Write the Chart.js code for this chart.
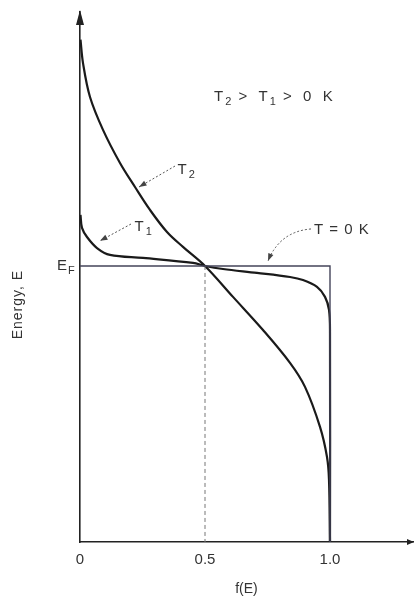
<!DOCTYPE html>
<html>
<head>
<meta charset="utf-8">
<script src="https://cdn.jsdelivr.net/npm/chart.js@4.4.1/dist/chart.umd.min.js"></script>
<style>
  html, body { margin: 0; padding: 0; background: #fff; }
  #wrap { width: 414px; height: 602px; }
</style>
</head>
<body>
<div id="wrap"><canvas id="fermiChart"></canvas></div>
<script>
// f(E) / E points (E in units of E_F)
const t2F = [0.002, 0.012, 0.04, 0.092, 0.16, 0.22, 0.28, 0.348, 0.412, 0.5, 0.612, 0.732, 0.84, 0.90, 0.96, 0.988, 0.996, 1.0];
const t2E = [1.82, 1.735, 1.612, 1.493, 1.373, 1.286, 1.203, 1.123, 1.069, 1.0, 0.888, 0.768, 0.649, 0.562, 0.417, 0.308, 0.225, 0.0];

const t1F = [0.002, 0.008, 0.028, 0.068, 0.12, 0.252, 0.452, 0.5, 0.572, 0.708, 0.84, 0.892, 0.948, 0.98, 0.996, 1.0, 1.0];
const t1E = [1.185, 1.138, 1.105, 1.065, 1.04, 1.029, 1.011, 1.0, 0.989, 0.975, 0.960, 0.949, 0.924, 0.888, 0.841, 0.757, 0.0];

// T = 0 K step
const t0F = [0, 1, 1];
const t0E = [1, 1, 0];

// dashed guide at f = 0.5
const halfF = [0.5, 0.5];
const halfE = [1, 0];

const tickValues = [0, 0.5, 1.0];
const tickLabels = ['0', '0.5', '1.0'];

const toPoints = (xs, ys) => xs.map((x, i) => ({ x: x, y: ys[i] }));

const FONT = '"Liberation Sans", Arial, sans-serif';
const INK = '#333';

// arrows and labels drawn on top of the chart
const annotations = {
    id: 'annotations',
    afterDraw(chart) {
        const ctx = chart.ctx;
        const xs = chart.scales.x;
        const ys = chart.scales.y;
        const px = (f, e) => [xs.getPixelForValue(f), ys.getPixelForValue(e)];
        const area = chart.chartArea;

        ctx.save();
        ctx.fillStyle = '#222';
        // axis arrow heads
        ctx.beginPath();
        ctx.moveTo(area.left, area.top - 2);
        ctx.lineTo(area.left - 4, area.top + 13);
        ctx.lineTo(area.left + 4, area.top + 13);
        ctx.closePath();
        ctx.fill();
        ctx.beginPath();
        ctx.moveTo(area.right + 1, area.bottom);
        ctx.lineTo(area.right - 6, area.bottom - 3);
        ctx.lineTo(area.right - 6, area.bottom + 3);
        ctx.closePath();
        ctx.fill();

        function arrowHead(x1, y1, x2, y2) {
            const a = Math.atan2(y2 - y1, x2 - x1);
            ctx.setLineDash([]);
            ctx.beginPath();
            ctx.moveTo(x2, y2);
            ctx.lineTo(x2 - 8 * Math.cos(a - 0.35), y2 - 8 * Math.sin(a - 0.35));
            ctx.lineTo(x2 - 8 * Math.cos(a + 0.35), y2 - 8 * Math.sin(a + 0.35));
            ctx.closePath();
            ctx.fill();
        }
        function arrow(from, to) {
            const [x1, y1] = px(from[0], from[1]);
            const [x2, y2] = px(to[0], to[1]);
            ctx.strokeStyle = '#555';
            ctx.lineWidth = 1;
            ctx.setLineDash([2, 2]);
            ctx.beginPath();
            ctx.moveTo(x1, y1);
            ctx.lineTo(x2, y2);
            ctx.stroke();
            arrowHead(x1, y1, x2, y2);
        }
        // text made of [string, isSubscript] parts, left aligned
        function richText(parts, x, y, spacing) {
            let cx = x;
            parts.forEach(([s, sub]) => {
                ctx.font = (sub ? '11px ' : '15px ') + FONT;
                ctx.fillText(s, cx, sub ? y + 5 : y);
                cx += ctx.measureText(s).width + spacing;
            });
        }

        ctx.fillStyle = '#444';
        arrow([0.38, 1.362], [0.236, 1.286]);
        arrow([0.204, 1.152], [0.08, 1.091]);

        // curved arrow for T = 0 K
        const [cx1, cy1] = px(0.924, 1.134);
        const [cx2, cy2] = px(0.752, 1.018);
        const [qx, qy] = px(0.8, 1.125);
        ctx.strokeStyle = '#555';
        ctx.lineWidth = 1;
        ctx.setLineDash([2, 2]);
        ctx.beginPath();
        ctx.moveTo(cx1, cy1);
        ctx.quadraticCurveTo(qx, qy, cx2, cy2);
        ctx.stroke();
        arrowHead(qx, qy, cx2, cy2);

        // texts
        ctx.fillStyle = INK;
        ctx.textBaseline = 'middle';
        ctx.textAlign = 'left';
        if ('letterSpacing' in ctx) ctx.letterSpacing = '1px';
        let p = px(0.536, 1.612);
        richText([['T', false], ['2', true], [' >  T', false], ['1', true], [' >  0  K', false]], p[0], p[1], 1);
        p = px(0.936, 1.13);
        richText([['T = 0 K', false]], p[0], p[1], 0);
        p = px(0.39, 1.348);
        richText([['T', false], ['2', true]], p[0], p[1], 1);
        p = px(0.218, 1.141);
        richText([['T', false], ['1', true]], p[0], p[1], 1);

        // E_F beside the axis
        p = px(0, 1);
        richText([['E', false], ['F', true]], p[0] - 23, p[1], 0);

        // y axis title
        ctx.translate(18, ys.getPixelForValue(0.86));
        ctx.rotate(-Math.PI / 2);
        ctx.textAlign = 'center';
        ctx.font = '14px ' + FONT;
        ctx.fillText('Energy, E', 0, 0);
        ctx.restore();
    }
};

const ctx = document.getElementById('fermiChart').getContext('2d');
const chart = new Chart(ctx, {
    type: 'scatter',
    data: {
        datasets: [
            {
                label: 'T = 0 K',
                data: toPoints(t0F, t0E),
                showLine: true,
                borderColor: '#44445a',
                borderWidth: 1.4,
                pointRadius: 0,
                tension: 0,
            },
            {
                label: 'f = 0.5',
                data: toPoints(halfF, halfE),
                showLine: true,
                borderColor: '#777',
                borderWidth: 1,
                borderDash: [4, 3],
                pointRadius: 0,
            },
            {
                label: 'T1',
                data: toPoints(t1F, t1E),
                showLine: true,
                borderColor: '#1a1a1a',
                borderWidth: 2.2,
                pointRadius: 0,
                tension: 0.35,
            },
            {
                label: 'T2',
                data: toPoints(t2F, t2E),
                showLine: true,
                borderColor: '#1a1a1a',
                borderWidth: 2.2,
                pointRadius: 0,
                tension: 0.35,
            },
        ]
    },
    options: {
        responsive: true,
        maintainAspectRatio: false,
        animation: false,
        layout: { padding: { top: 12, right: 1, left: 0, bottom: 0 } },
        plugins: {
            legend: { display: false },
            tooltip: { enabled: false },
        },
        scales: {
            x: {
                type: 'linear',
                min: 0,
                max: 1.332,
                grid: { display: false, drawTicks: false },
                border: { display: true, color: '#222', width: 1.6 },
                afterBuildTicks: (scale) => {
                    scale.ticks = tickValues.map(v => ({ value: v }));
                },
                afterFit: (scale) => { scale.height = 60; },
                ticks: {
                    padding: 9,
                    color: INK,
                    font: { family: FONT, size: 15 },
                    maxRotation: 0,
                    autoSkip: false,
                    callback: (value) => tickLabels[tickValues.indexOf(value)],
                },
                title: {
                    display: true,
                    text: 'f(E)',
                    color: INK,
                    font: { family: FONT, size: 14 },
                    padding: { top: 0, bottom: 4 },
                },
            },
            y: {
                type: 'linear',
                min: 0,
                max: 1.92,
                grid: { display: false, drawTicks: false },
                border: { display: true, color: '#222', width: 1.6 },
                ticks: { display: false },
                afterFit: (scale) => { scale.width = 80; },
            }
        }
    },
    plugins: [annotations]
});
</script>
</body>
</html>
